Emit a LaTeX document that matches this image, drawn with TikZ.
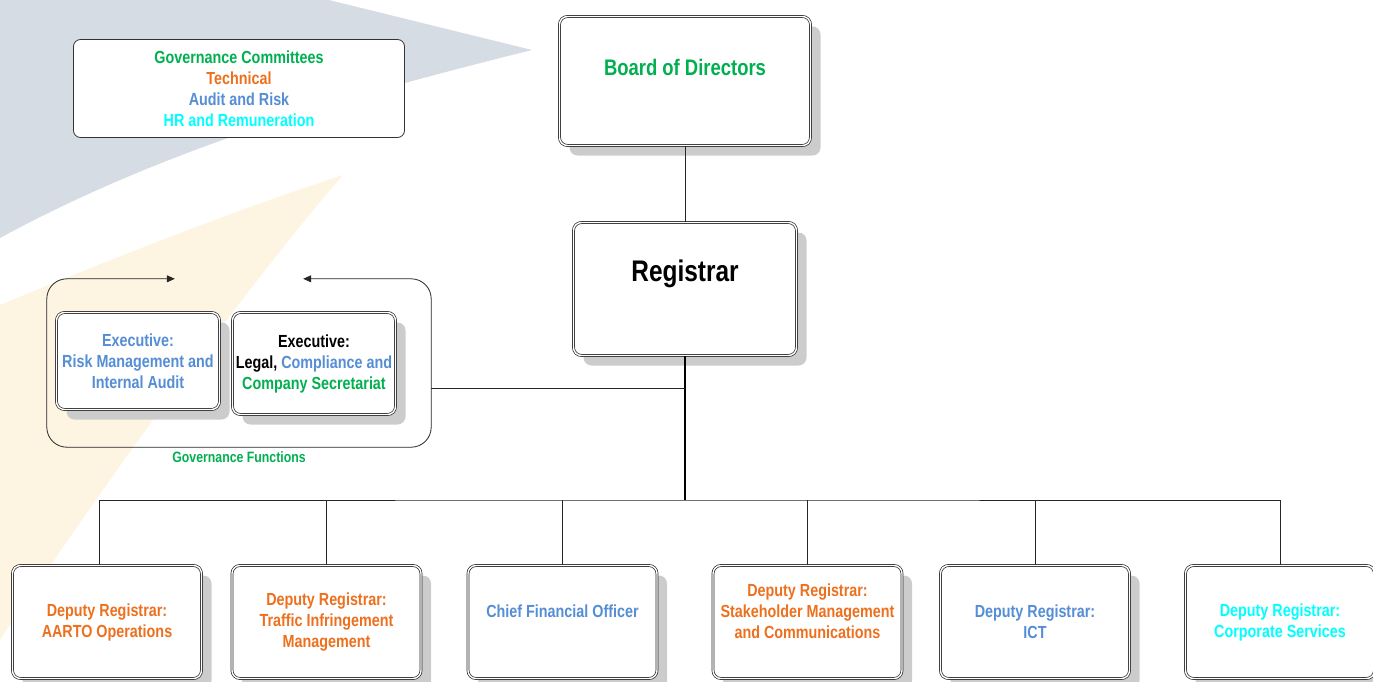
\documentclass[tikz,border=0pt]{standalone}
\usepackage{fontspec}
\setmainfont[FakeStretch=0.82]{Liberation Sans}
\usetikzlibrary{positioning,shadows,arrows.meta}

\definecolor{ugreen}{RGB}{0,176,80}
\definecolor{uorange}{RGB}{237,112,30}
\definecolor{ublue}{RGB}{85,142,213}
\definecolor{ucyan}{RGB}{0,255,255}
\definecolor{bgslate}{RGB}{214,220,228}
\definecolor{bgpeach}{RGB}{254,244,226}

\tikzset{
	post/.style={draw=black!85, double, double distance=1.4pt, line width=0.7pt, rounded corners=8pt, fill=white,
		drop shadow={shadow xshift=10pt, shadow yshift=-10pt, fill=black!20, opacity=1},
		align=center, inner sep=0.75pt, font=\fontsize{17.5}{21}\selectfont\bfseries},
	deputy/.style={post, minimum width=189, minimum height=113},
	caption/.style={inner sep=0.75pt, align=center, font=\fontsize{17.5}{21}\selectfont\bfseries},
	link/.style={draw=black!85, line width=0.9pt},
	trunk/.style={draw=black, line width=1.8pt},
}

\begin{document}
\begin{tikzpicture}[x=1pt,y=1pt,yscale=-1,xscale=1]
		\useasboundingbox (0,0) rectangle (1373,682);

		% Faint background swooshes
		\fill[bgslate] (0,0) -- (329,0) -- (532,50) .. controls (380,88) and (180,140) .. (0,238) -- cycle;
		\fill[bgpeach] (343,175) .. controls (250,205) and (120,255) .. (0,305) -- (0,640) .. controls (120,460) and (260,270) .. (343,175) -- cycle;

		% Committees panel (top left)
		\node[caption, draw=black!80, line width=0.8pt, rounded corners=7pt, fill=white, minimum width=331, minimum height=98] (cttee) at (239,88.5)
			{\textcolor{ugreen}{Governance Committees}\\ \textcolor{uorange}{Technical}\\ \textcolor{ublue}{Audit and Risk}\\ \textcolor{ucyan}{HR and Remuneration}};

		% Board and Registrar
		\node[post, minimum width=251, minimum height=129] (board) at (685,81) {};
		\node[caption, text=ugreen, font=\fontsize{22.5}{27}\selectfont\bfseries] (board-t) at (685,67) {Board of Directors};
		\node[post, minimum width=223, minimum height=133] (reg) at (685,289) {};
		\node[caption, font=\fontsize{29.8}{36}\selectfont\bfseries] (reg-t) at (685,274) {Registrar};

		% Governance functions group with its two executives
		\node[minimum width=384, minimum height=168, inner sep=0] (govfn) at (239,363) {};
		\draw[link, line width=0.8pt, rounded corners=20pt, {Triangle[length=8pt,width=7pt]}-{Triangle[length=8pt,width=7pt]}]
			([xshift=-128pt]govfn.north east) -- (govfn.north east) -- (govfn.south east) -- (govfn.south west) -- (govfn.north west) -- ([xshift=128pt]govfn.north west);
		\node[caption, text=ugreen, font=\fontsize{15}{18}\selectfont\bfseries, below=3pt of govfn] (govfn-t) {Governance Functions};
		\node[post, text=ublue, minimum width=163, minimum height=97] (risk) at (138,361) {Executive:\\ Risk Management and\\ Internal Audit};
		\node[post, minimum width=163, minimum height=102] (legal) at (314,363.5) {Executive:\\ Legal, \textcolor{ublue}{Compliance and}\\ \textcolor{ugreen}{Company Secretariat}};

		% Deputies along the bottom
		\node[deputy, text=uorange] (aarto) at (107,622) {Deputy Registrar:\\ AARTO Operations};
		\node[deputy, text=uorange] (tim) at (326.5,622) {Deputy Registrar:\\ Traffic Infringement\\ Management};
		\node[deputy] (cfo) at (562.5,622) {};
		\node[caption, text=ublue] (cfo-t) at (562.5,611) {Chief Financial Officer};
		\node[deputy] (stake) at (807.5,622) {};
		\node[caption, text=uorange] (stake-t) at (807.5,611) {Deputy Registrar:\\ Stakeholder Management\\ and Communications};
		\node[deputy, text=ublue] (ict) at (1035,622) {Deputy Registrar:\\ ICT};
		\node[deputy, text=ucyan] (corp) at (1280,622) {Deputy Registrar:\\ Corporate Services};

		% Reporting lines
		\coordinate (tap) at (685,388);
		\coordinate (bus) at (685,500);
		\draw[link] (board) -- (reg);
		\draw[trunk] (reg.south) -- (bus);
		\draw[link] (tap) -- (tap -| govfn.east);
		\draw[link] ([xshift=-8pt]aarto.north) |- (bus) -| (corp.north);
		\foreach \n in {tim,cfo,stake,ict}
			\draw[link] (\n.north) -- (\n.north |- bus);
	\end{tikzpicture}
\end{document}
